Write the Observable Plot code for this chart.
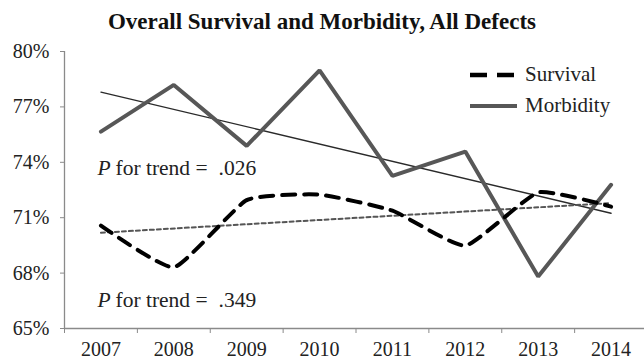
<!DOCTYPE html>
<html>
<head>
<meta charset="utf-8">
<script src="https://cdn.jsdelivr.net/npm/d3@7"></script>
<script src="https://cdn.jsdelivr.net/npm/@observablehq/plot@0.6"></script>
<style>
  html, body { margin: 0; padding: 0; background: #fff; }
  #wrap { position: relative; width: 644px; height: 362px; overflow: hidden; font-family: "Liberation Serif", "Times New Roman", serif; }
  #title { height: 29px; padding-top: 9px; line-height: 26px; text-align: center; font-weight: bold; font-size: 23px; color: #111; font-family: "Liberation Serif", serif; }
  #legend { position: absolute; left: 469px; top: 59px; font-size: 21px; color: #222; font-family: "Liberation Serif", serif; }
  #legend .row { display: flex; align-items: center; height: 31px; }
  #legend svg { width: 52px; height: 10px; margin-right: 4px; }
  #chart svg, #chart svg text { font-family: "Liberation Serif", serif !important; }
</style>
</head>
<body>
<div id="wrap">
  <div id="title">Overall Survival and Morbidity, All Defects</div>
  <div id="chart"></div>
  <div id="legend"></div>
</div>
<script>
const years = [2007, 2008, 2009, 2010, 2011, 2012, 2013, 2014];
const survival = [70.57, 68.31, 71.95, 72.25, 71.38, 69.49, 72.37, 71.6];
const morbidity = [75.66, 78.19, 74.89, 78.98, 73.27, 74.58, 67.81, 72.78];
const yTicks = [65, 68, 71, 74, 77, 80];
const seriesNames = ["Survival", "Morbidity"];
const pTrend = [".026", ".349"];

const survData = years.map((yr, i) => ({year: yr, value: survival[i]}));
const morbData = years.map((yr, i) => ({year: yr, value: morbidity[i]}));
const bounds = d3.range(years[0] - 0.5, years[years.length - 1] + 1, 1);

const H = 324;
const fs = 20;
const afs = 21.5;

const plot = Plot.plot({
  width: 644,
  height: H,
  marginLeft: 64,
  marginRight: 0,
  marginTop: 13,
  marginBottom: 34,
  style: {fontFamily: "'Liberation Serif', serif", fontSize: "20px", color: "#222", background: "#fff", overflow: "visible"},
  x: {domain: [years[0] - 0.5, years[years.length - 1] + 0.5], range: [64, 647]},
  y: {domain: [65, 80], range: [H - 34, 13]},
  marks: [
    Plot.ruleX([years[0] - 0.5], {stroke: "#8a8a8a", strokeWidth: 1.3}),
    Plot.ruleY([65], {stroke: "#8a8a8a", strokeWidth: 1.3}),
    Plot.axisY({ticks: yTicks, tickFormat: d => d + "%", tickSize: 4, tickPadding: 11, stroke: "#8a8a8a", fill: "#222", label: null, fontSize: fs}),
    Plot.axisX({ticks: bounds, tickSize: 5, text: null, stroke: "#8a8a8a", label: null}),
    Plot.axisX({ticks: years, tickFormat: d => String(d), tickSize: 0, tickPadding: 13, fill: "#222", label: null, fontSize: fs}),
    Plot.linearRegressionY(morbData, {x: "year", y: "value", ci: 0, stroke: "#2a2a2a", strokeWidth: 1.3}),
    Plot.linearRegressionY(survData, {x: "year", y: "value", ci: 0, stroke: "#555", strokeWidth: 2, strokeDasharray: "4,3"}),
    Plot.line(morbData, {x: "year", y: "value", stroke: "#575757", strokeWidth: 4, strokeLinejoin: "miter"}),
    Plot.line(survData, {x: "year", y: "value", stroke: "#000", strokeWidth: 4, strokeDasharray: "13,9", curve: "cardinal", tension: 0.55}),
    Plot.text(["P"], {frameAnchor: "top-left", dx: 33, dy: 108, text: d => d, fontStyle: "italic", textAnchor: "start", fontSize: afs, fill: "#222"}),
    Plot.text(["for trend ="], {frameAnchor: "top-left", dx: 51, dy: 108, text: d => d, textAnchor: "start", fontSize: afs, fill: "#222"}),
    Plot.text([pTrend[0]], {frameAnchor: "top-left", dx: 154, dy: 108, text: d => d, textAnchor: "start", fontSize: afs, fill: "#222"}),
    Plot.text(["P"], {frameAnchor: "top-left", dx: 33, dy: 240, text: d => d, fontStyle: "italic", textAnchor: "start", fontSize: afs, fill: "#222"}),
    Plot.text(["for trend ="], {frameAnchor: "top-left", dx: 51, dy: 240, text: d => d, textAnchor: "start", fontSize: afs, fill: "#222"}),
    Plot.text([pTrend[1]], {frameAnchor: "top-left", dx: 154, dy: 240, text: d => d, textAnchor: "start", fontSize: afs, fill: "#222"})
  ]
});
document.getElementById("chart").appendChild(plot);

const legend = document.getElementById("legend");
const styles = [
  {stroke: "#000", dash: "17,10", width: 4.5},
  {stroke: "#575757", dash: null, width: 4}
];
seriesNames.forEach((name, i) => {
  const row = document.createElement("div");
  row.className = "row";
  const s = styles[i];
  row.innerHTML = `<svg viewBox="0 0 52 10"><line x1="1" x2="48" y1="5" y2="5" stroke="${s.stroke}" stroke-width="${s.width}" ${s.dash ? `stroke-dasharray="${s.dash}"` : ""}/></svg><span>${name}</span>`;
  legend.appendChild(row);
});
</script>
</body>
</html>
